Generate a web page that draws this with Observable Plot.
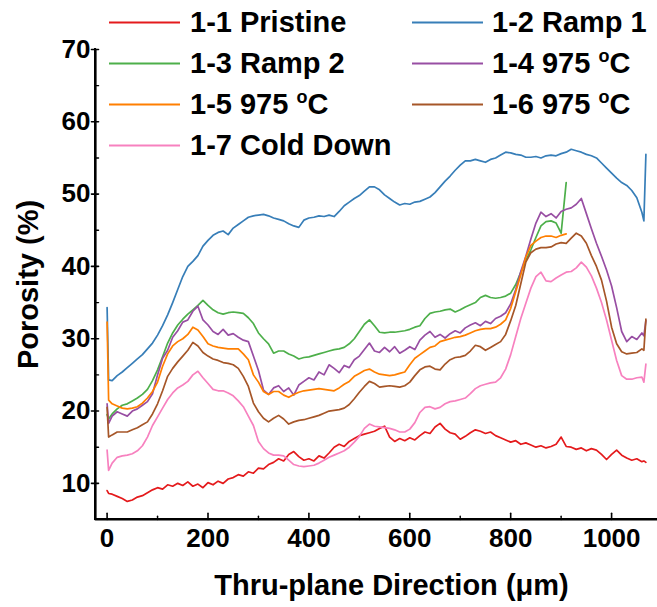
<!DOCTYPE html>
<html><head><meta charset="utf-8">
<script src="https://cdn.jsdelivr.net/npm/d3@7"></script>
<script src="https://cdn.jsdelivr.net/npm/@observablehq/plot@0.6"></script>
<style>
body{margin:0;background:#fff;}
#wrap{position:relative;width:657px;height:607px;background:#fff;font-family:"Liberation Sans",Arial,sans-serif;font-weight:bold;}
#wrap svg{position:relative;z-index:1;}
.ax{position:absolute;background:#000;z-index:0;}
.leg{position:absolute;z-index:2;display:flex;align-items:center;font-size:29px;line-height:1;color:#000;white-space:nowrap;transform:translateY(-50%);}
.leg .sw{width:71px;height:2px;}
.leg sup{font-size:0.62em;position:relative;top:-0.12em;vertical-align:top;}
</style></head><body><div id="wrap"><div class="ax" style="left:94px;top:48px;width:2.2px;height:472px"></div><div class="ax" style="left:94px;top:518px;width:563px;height:2.2px"></div></div>
<script>
const xs = [0,3,10,20,30,40,50,60,70,80,90,100,110,120,130,140,150,160,170,180,190,200,210,220,230,240,250,260,270,280,290,300,310,320,330,340,350,360,370,380,390,400,410,420,430,440,450,460,470,480,490,500,510,520,530,540,550,560,570,580,590,600,610,620,630,640,650,660,670,680,690,700,710,720,730,740,750,760,770,780,790,800,810,820,830,840,850,860,870,880,890,900,910,920,930,940,950,960,970,980,990,1000,1010,1020,1030,1040,1050,1060,1064,1068];

const pristine = [9.0,8.6,
 8.5,8.2,7.9,7.5,7.7,8.1,8.3,8.7,9.1,9.4,
 9.2,9.8,9.6,10.0,9.7,10.2,9.6,9.9,9.4,10.1,
 9.8,10.3,10.0,10.6,10.8,11.2,11.0,11.6,11.4,12.1,
 12.0,12.6,12.9,13.4,13.1,14.0,14.4,13.7,13.2,13.4,
 13.1,13.8,13.5,14.2,15.0,15.4,15.1,15.8,16.2,16.6,
 16.8,17.0,17.2,17.6,17.9,16.4,15.8,16.2,15.9,16.3,
 16.0,16.6,17.1,16.9,17.8,18.3,17.5,17.0,16.8,16.1,
 16.5,17.0,17.4,17.2,16.9,17.1,16.6,16.3,16.0,15.7,
 15.9,15.4,15.6,15.3,15.0,15.2,14.9,15.1,15.4,16.4,
 15.1,15.0,14.7,14.9,14.5,14.8,14.6,14.0,13.3,14.0,
 14.6,13.9,13.5,13.2,13.4,13.0,
 13.1,12.9];

const ramp1 = [34.3,24.3,
 24.2,24.9,25.4,26.0,26.6,27.2,27.8,28.6,29.4,30.5,
 31.8,33.3,35.0,36.8,38.6,40.0,40.7,41.5,42.8,43.6,
 44.3,44.7,44.9,44.4,45.3,45.8,46.3,46.8,47.0,47.1,
 47.2,47.0,46.7,46.5,46.3,45.9,45.6,45.4,46.4,46.7,
 46.8,47.0,46.9,47.1,46.9,47.6,48.4,48.9,49.4,49.8,
 50.4,51.0,51.0,50.6,49.9,49.4,48.9,48.5,48.7,48.6,
 48.9,49.0,49.3,49.6,50.2,51.0,51.8,52.5,53.3,54.0,
 54.6,54.6,54.8,54.6,54.4,54.8,55.0,55.4,55.8,55.7,
 55.5,55.4,55.1,55.1,55.2,55.0,55.3,55.4,55.3,55.6,
 55.8,56.2,56.0,55.8,55.5,55.3,55.0,54.3,53.6,52.9,
 52.2,51.6,51.2,50.5,49.5,47.5,
 46.3,55.5];

const ramp2 = [19.5,18.9,
 19.6,20.3,20.8,21.0,21.4,21.8,22.3,23.0,24.2,25.7,
 27.5,29.4,30.8,31.9,32.7,33.4,34.0,34.6,35.3,34.6,
 34.0,33.6,33.4,33.6,33.7,33.6,33.5,32.9,32.1,30.8,
 30.0,29.3,28.0,28.3,28.3,27.9,27.6,27.2,27.4,27.5,
 27.7,27.9,28.1,28.3,28.5,28.6,28.8,29.3,30.0,31.0,
 32.0,32.6,31.8,30.9,30.8,30.9,30.9,31.0,31.1,31.3,
 31.6,31.8,32.8,33.5,33.7,33.8,34.0,34.1,33.7,34.0,
 34.4,34.7,35.0,35.7,36.0,35.7,35.6,35.7,35.9,36.3,
 37.5,39.2,40.8,42.3,44.0,45.6,46.2,46.3,46.0,44.6,
 51.6];

const hold1 = [21.0,18.3,
 19.3,19.9,19.6,19.3,20.0,20.3,20.8,21.3,22.4,25.0,
 27.3,28.4,30.2,31.1,32.3,32.6,33.8,34.5,32.6,31.9,
 31.0,30.6,31.3,30.5,30.7,30.2,29.8,29.6,27.6,25.6,
 22.9,22.3,23.2,23.5,22.7,23.2,22.2,23.6,24.1,24.6,
 24.3,25.4,25.0,26.4,25.9,25.3,26.3,26.0,27.1,27.6,
 28.5,29.4,28.3,28.1,28.8,28.2,28.9,28.0,28.4,28.9,
 28.5,29.8,30.5,31.0,30.2,30.6,30.1,30.7,31.1,30.8,
 31.5,31.9,32.2,31.8,32.4,32.1,32.8,33.1,33.6,34.8,
 36.8,39.3,41.4,43.8,46.0,47.5,46.9,47.3,46.7,47.6,
 47.9,48.1,48.6,49.4,47.3,45.2,43.2,41.4,39.5,37.3,
 34.3,31.0,29.6,30.3,29.9,30.8,
 30.4,32.5];

const hold2 = [32.3,21.5,
 21.0,20.7,20.4,20.3,20.4,20.6,21.1,21.8,22.7,24.0,
 26.2,27.9,29.0,29.6,30.0,30.6,31.6,31.2,30.3,29.3,
 29.0,28.8,28.7,28.6,28.6,28.6,27.9,27.1,25.0,24.0,
 22.7,22.3,22.7,22.7,22.2,21.9,22.3,22.6,22.8,22.9,
 23.0,23.1,23.0,22.9,22.8,23.2,23.7,24.1,24.8,25.2,
 25.6,25.8,25.4,25.1,25.0,24.9,25.0,25.2,25.4,26.4,
 27.3,27.8,28.3,28.8,29.0,29.6,29.8,30.0,30.2,30.3,
 30.5,30.8,31.1,31.3,31.4,31.4,31.6,32.0,32.6,34.2,
 36.5,38.8,41.3,42.9,43.5,44.0,44.2,44.2,44.0,44.3,
 44.5];

const hold3 = [20.5,16.4,
 16.7,17.1,17.1,17.1,17.4,17.7,18.1,18.5,19.6,21.0,
 22.8,24.8,25.9,26.8,27.6,28.4,29.5,29.0,28.1,27.6,
 27.2,27.0,26.7,26.6,26.4,25.9,24.8,23.4,21.1,19.9,
 19.0,18.5,19.0,19.4,18.9,18.2,18.5,18.7,18.8,19.0,
 19.2,19.4,19.7,20.0,20.1,20.2,20.4,20.9,21.7,22.6,
 23.4,24.1,23.8,23.3,23.4,23.5,23.4,23.3,23.5,24.0,
 24.9,25.7,26.1,26.2,25.8,25.7,26.5,27.1,27.4,27.5,
 27.7,28.3,29.1,28.9,28.4,28.8,29.2,29.6,30.6,32.5,
 34.6,37.6,40.6,41.9,42.4,42.6,42.6,42.7,43.1,43.3,
 43.2,43.9,44.6,44.2,43.2,41.5,40.0,38.1,35.2,31.6,
 29.3,28.2,27.9,28.0,28.1,28.6,
 28.4,32.7];

const coldDown = [14.6,11.8,
 12.8,13.6,13.8,13.9,14.1,14.5,15.2,16.4,18.0,19.2,
 20.4,21.6,22.5,23.2,23.6,24.1,25.0,25.5,24.6,23.8,
 23.0,22.8,22.8,22.5,22.1,21.4,20.6,19.3,18.0,15.8,
 14.8,14.2,13.9,13.9,13.8,13.2,12.6,12.4,12.3,12.4,
 12.5,12.8,13.2,13.6,13.9,14.2,14.5,15.0,15.7,16.5,
 17.6,18.2,17.9,17.8,17.7,17.6,17.4,17.1,17.1,17.5,
 18.4,19.8,20.5,20.6,20.3,20.5,21.0,21.3,21.4,21.6,
 21.8,22.4,23.1,23.5,23.7,23.9,24.0,24.6,25.8,27.8,
 30.3,32.8,34.9,37.0,38.6,39.2,38.0,37.9,38.4,38.8,
 39.2,39.3,39.8,40.6,39.9,38.7,37.0,35.0,32.6,29.8,
 27.0,24.9,24.4,24.4,24.6,24.7,
 24.0,26.5];

const names = ["1-1 Pristine","1-2 Ramp 1","1-3 Ramp 2","1-4 975 °C","1-5 975 °C","1-6 975 °C","1-7 Cold Down"];
const legendHtml = ["1-1 Pristine","1-2 Ramp 1","1-3 Ramp 2","1-4 975 <sup>o</sup>C","1-5 975 <sup>o</sup>C","1-6 975 <sup>o</sup>C","1-7 Cold Down"];
const colors = ["#e41a1c","#377eb8","#4daf4a","#984ea3","#ff7f00","#a65628","#f781bf"];
const seriesValues = [pristine, ramp1, ramp2, hold1, hold2, hold3, coldDown];

const yTicks = [10,20,30,40,50,60,70];
const yMinor = [15,25,35,45,55,65];
const xTicks = [0,200,400,600,800,1000];
const xMinor = [100,300,500,700,900];

const data = [];
seriesValues.forEach((vals, k) => {
  vals.forEach((v, i) => { if (i < xs.length) data.push({x: xs[i], y: v, name: names[k]}); });
});

const X0 = -23, Y0 = 5, X1 = 1091, Y1 = 70;
const AX = "axis";
// axis line segments and tick segments, drawn as lines in the same colour scale (black)
const axisPts = [{x: X0, y: Y1, k: "a", name: AX}, {x: X0, y: Y0, k: "a", name: AX}, {x: X1, y: Y0, k: "a", name: AX}];
const majorSegs = [], minorSegs = [];
yTicks.forEach(t => { majorSegs.push({x: X0 - 8, y: t, k: "y" + t, name: AX}, {x: X0 + 6, y: t, k: "y" + t, name: AX}); });
yMinor.forEach(t => { minorSegs.push({x: X0, y: t, k: "y" + t, name: AX}, {x: X0 + 6, y: t, k: "y" + t, name: AX}); });
xTicks.forEach(t => { majorSegs.push({x: t, y: Y0, k: "x" + t, name: AX}, {x: t, y: Y0 + 0.85, k: "x" + t, name: AX}); });
xMinor.forEach(t => { minorSegs.push({x: t, y: Y0, k: "x" + t, name: AX}, {x: t, y: Y0 + 0.45, k: "x" + t, name: AX}); });

const chart = Plot.plot({
  width: 657, height: 607,
  marginLeft: 95, marginRight: 0, marginTop: 49, marginBottom: 88,
  x: {domain: [X0, X1]},
  y: {domain: [Y0, Y1]},
  color: {domain: [...names, AX], range: [...colors, "#000000"]},
  style: {fontFamily: "'Liberation Sans', Arial, sans-serif", fontWeight: "bold", fontSize: "26px", background: "transparent", overflow: "visible"},
  marks: [
    Plot.line(data, {x: "x", y: "y", z: "name", stroke: "name", strokeWidth: 1.7}),
    Plot.line(axisPts, {x: "x", y: "y", z: "k", stroke: "name", strokeWidth: 2.2}),
    Plot.line(majorSegs, {x: "x", y: "y", z: "k", stroke: "name", strokeWidth: 1.6}),
    Plot.line(minorSegs, {x: "x", y: "y", z: "k", stroke: "name", strokeWidth: 1.4}),
    Plot.axisY(yTicks, {tickSize: 0, tickPadding: 5, fontSize: 26, fontWeight: "bold", label: null}),
    Plot.axisX(xTicks, {tickSize: 0, tickPadding: 9, tickFormat: "d", fontSize: 26, fontWeight: "bold", label: null}),
    Plot.text(["Porosity (%)"], {frameAnchor: "left", dx: -67, rotate: -90, fontSize: 29, fontWeight: "bold", textAnchor: "middle", lineAnchor: "middle"}),
    Plot.text(["Thru-plane Direction (\u03bcm)"], {frameAnchor: "bottom", dx: 15, dy: 66, fontSize: 29, fontWeight: "bold", textAnchor: "middle", lineAnchor: "middle"})
  ]
});
const wrap = document.getElementById("wrap");
wrap.appendChild(chart);

const legX = [[109, 190], [412, 492]];
const legY = [22, 63, 104, 145];
names.forEach((n, i) => {
  const col = i % 2, row = Math.floor(i / 2);
  const d = document.createElement("div");
  d.className = "leg";
  d.style.left = legX[col][0] + "px";
  d.style.top = legY[row] + "px";
  d.innerHTML = `<span class="sw" style="background:${colors[i]};margin-right:${legX[col][1]-legX[col][0]-71}px"></span><span>${legendHtml[i]}</span>`;
  wrap.appendChild(d);
});
</script></body></html>
